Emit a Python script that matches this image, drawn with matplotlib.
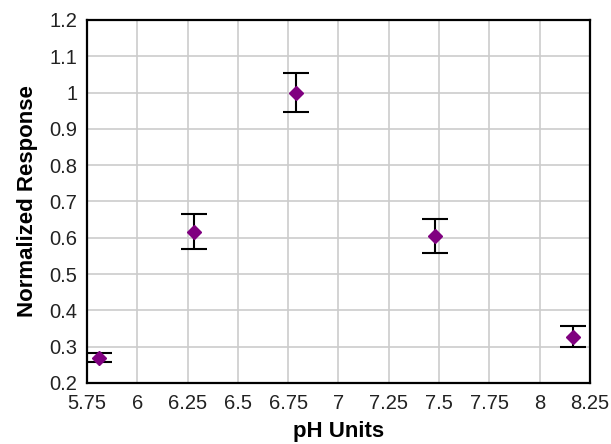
import matplotlib.pyplot as plt

ph = [5.81, 6.28, 6.79, 7.48, 8.165]
response = [0.270, 0.617, 1.000, 0.605, 0.328]
error = [0.0115, 0.049, 0.053, 0.047, 0.029]
xticks = [5.75, 6, 6.25, 6.5, 6.75, 7, 7.25, 7.5, 7.75, 8, 8.25]
xticklabels = ['5.75', '6', '6.25', '6.5', '6.75', '7', '7.25', '7.5', '7.75', '8', '8.25']
yticks = [0.2, 0.3, 0.4, 0.5, 0.6, 0.7, 0.8, 0.9, 1.0, 1.1, 1.2]
yticklabels = ['0.2', '0.3', '0.4', '0.5', '0.6', '0.7', '0.8', '0.9', '1', '1.1', '1.2']

plt.rcParams['font.family'] = ['Liberation Sans', 'DejaVu Sans']

fig = plt.figure(figsize=(6.11, 4.44), dpi=100)
ax = fig.add_axes([0.1424, 0.1374, 0.8232, 0.8176])

ax.errorbar(ph, response, yerr=error, fmt='D', color='#800080', markersize=7,
            ecolor='black', elinewidth=1.5, capsize=9.5, capthick=1.5, zorder=3)

ax.set_xlim(5.75, 8.25)
ax.set_ylim(0.2, 1.2)
ax.set_xticks(xticks)
ax.set_xticklabels(xticklabels)
ax.set_yticks(yticks)
ax.set_yticklabels(yticklabels)
ax.tick_params(length=0, labelsize=14.5, colors='#222222')
ax.tick_params(axis='x', pad=8)
ax.tick_params(axis='y', pad=7)
ax.grid(True, color='#cccccc', linewidth=1.2)
ax.set_axisbelow(True)
for s in ax.spines.values():
    s.set_linewidth(1.6)
    s.set_color('black')

ax.set_xlabel('pH Units', fontsize=16, fontweight='bold', labelpad=6)
ax.set_ylabel('Normalized Response', fontsize=16, fontweight='bold', labelpad=8)

fig.savefig('out.png', dpi=100)
